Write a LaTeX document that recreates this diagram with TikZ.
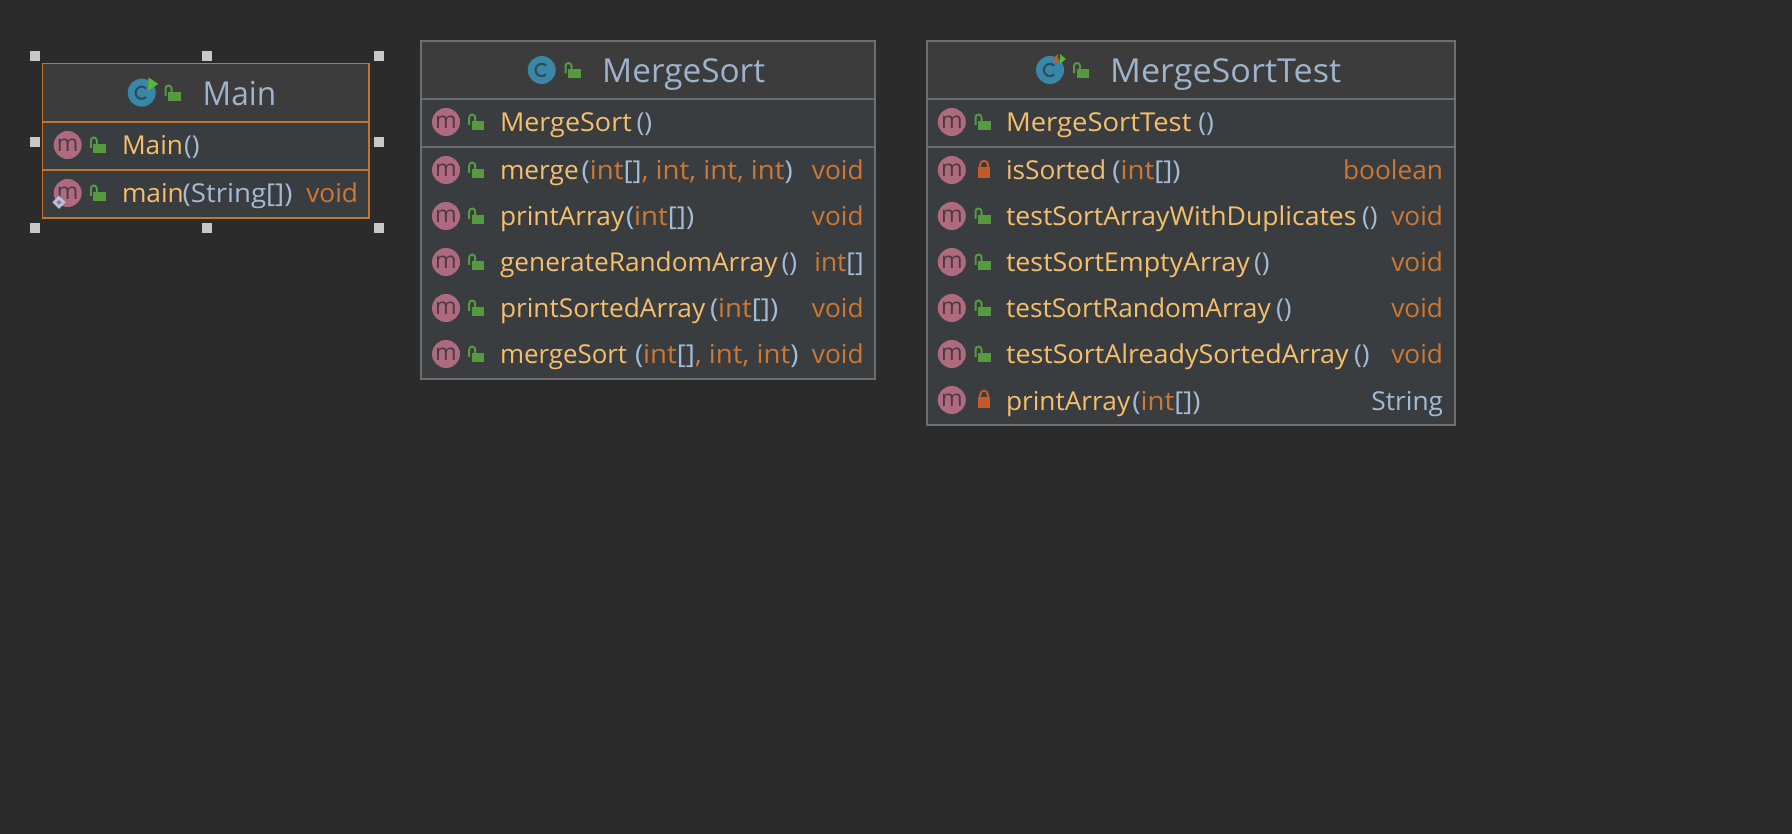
\documentclass[tikz,border=0pt]{standalone}
\usepackage{fontspec}
\setmainfont[FakeStretch=1.01]{Open Sans}
\definecolor{bg}{HTML}{2B2B2B}
\definecolor{headbg}{HTML}{3C3C3C}
\definecolor{rowbg}{HTML}{3A3D40}
\definecolor{frame}{HTML}{6E6E6E}
\definecolor{sel}{HTML}{C4752D}
\definecolor{mname}{HTML}{F5BF6B}
\definecolor{paren}{HTML}{A4BBD6}
\definecolor{tipe}{HTML}{CC7832}
\definecolor{title}{HTML}{9FB3CC}
\definecolor{mfill}{HTML}{AE6A7F}
\definecolor{mtext}{HTML}{4B3A42}
\definecolor{cfill}{HTML}{3A86A6}
\definecolor{ctext}{HTML}{2C4A5A}
\definecolor{pubc}{HTML}{559A3F}
\definecolor{pric}{HTML}{C35A28}
\definecolor{playg}{HTML}{5DB534}
\definecolor{handle}{HTML}{C8C8C8}
\tikzset{
  txt/.style={inner sep=0pt,outer sep=0pt,font=\fontsize{26}{30}\selectfont},
  namet/.style={txt,anchor=base west,text=mname},
  part/.style={txt,anchor=base west,text=paren},
  rett/.style={txt,anchor=base east,text=tipe},
  titlet/.style={inner sep=0pt,anchor=base west,text=title,font=\fontsize{33}{38}\selectfont},
  micon/.style={circle,fill=mfill,minimum size=28pt,inner sep=0pt,text=mtext,font=\fontsize{23}{23}\selectfont},
  grip/.style={fill=handle,minimum size=10pt,inner sep=0pt},
  sep/.style={line width=2pt},
}
\newcommand\Pa[1]{\textcolor{paren}{#1}}
\newcommand\Ty[1]{\textcolor{tipe}{#1}}
\newcommand\widen[2]{\scalebox{#1}[1]{#2}}
\newcommand\argz[1]{\scalebox{1.052}[1]{#1}}
\newcommand\pubk[2]{%
  \fill[pubc] (#1,#2-1) rectangle (#1+12.5,#2+8);
  \draw[pubc,line width=2pt] (#1-2.5,#2+3) -- (#1-2.5,#2-4.5) arc[start angle=180,end angle=360,radius=3] -- (#1+3.5,#2-1);
}
\newcommand\prik[2]{%
  \fill[pric] (#1,#2-3) rectangle (#1+12,#2+8);
  \draw[pric,line width=2pt] (#1+2.2,#2-3) -- (#1+2.2,#2-5.5) arc[start angle=180,end angle=360,radius=3.8] -- (#1+9.8,#2-3);
}
\newcommand\cicon[2]{%
  \fill[cfill] (#1,#2) circle[radius=14];
  \draw[ctext,line width=2pt] (#1+4.3,#2-4.3) arc[start angle=-45,end angle=-315,radius=6.1];
}
% \mrow{id}{y}{lock macro}{name}{x of parameters}{parameters}{return type}
\newcommand\mrow[7]{%
  \node[micon] (#1-icon) at (\ix,#2) {m};
  #3{\lx}{#2}
  \node[namet] (#1-name) at (\tx,#2+10) {#4};
  \node[part] (#1-par) at (#5,#2+10) {#6};
  \if\relax\detokenize{#7}\relax\else
    \node[rett] (#1-ret) at (\rx,#2+10) {#7};
  \fi
}
\begin{document}
\begin{tikzpicture}[x=1pt,y=-1pt]
\useasboundingbox (0,0) rectangle (1792,834);
\fill[bg] (0,0) rectangle (1792,834);

% ---------- Main
\fill[headbg] (42.5,63.5) rectangle (369,121.7);
\fill[rowbg] (42.5,121.7) rectangle (369,218);
\draw[sel,sep] (42.5,121.7) -- (369,121.7);
\draw[sel,sep] (42.5,170) -- (369,170);
\draw[sel,line width=1.3pt] (42.5,63.5) rectangle (369,218);
\cicon{141.7}{92.7}
\fill[playg] (148.3,77.3) -- (158.3,84) -- (148.3,90.7) -- cycle;
\pubk{168}{93}
\node[titlet] (main-title) at (202.5,106) {\widen{0.95}{Main}};
\def\ix{67.7}\def\lx{93.3}\def\tx{122}\def\rx{358}
\mrow{m1}{145}{\pubk}{Main}{184}{\Pa{()}}{}
\mrow{m2}{193}{\pubk}{main}{182.7}{\argz{\Pa{(String[])}}}{void}
\fill[paren!85!white] (59,195.7) -- (65.6,202.3) -- (59,208.9) -- (52.4,202.3) -- cycle;
\fill[mfill] (59,199.8) -- (61.5,202.3) -- (59,204.8) -- (56.5,202.3) -- cycle;
% selection handles
\node[grip] (h1) at (35,56) {};
\node[grip] (h2) at (207,56) {};
\node[grip] (h3) at (379,56) {};
\node[grip] (h4) at (35,142) {};
\node[grip] (h5) at (379,142) {};
\node[grip] (h6) at (35,228) {};
\node[grip] (h7) at (207,228) {};
\node[grip] (h8) at (379,228) {};

% ---------- MergeSort
\fill[headbg] (421,41) rectangle (875,99);
\fill[rowbg] (421,99) rectangle (875,379);
\draw[frame,sep] (421,99) -- (875,99);
\draw[frame,sep] (421,147) -- (875,147);
\draw[frame,line width=1.5pt] (421,41) rectangle (875,379);
\cicon{541.7}{70}
\pubk{568}{70.5}
\node[titlet] (ms-title) at (602,83) {MergeSort};
\def\ix{446}\def\lx{471.7}\def\tx{500}\def\rx{863.7}
\mrow{a0}{122}{\pubk}{\widen{1.027}{MergeSort}}{636.7}{\Pa{()}}{}
\mrow{a1}{170}{\pubk}{merge}{581.7}{\argz{\Pa{(}\Ty{int}\Pa{[]}\Ty{, int, int, int}\Pa{)}}}{void}
\mrow{a2}{216}{\pubk}{printArray}{626}{\argz{\Pa{(}\Ty{int}\Pa{[])}}}{void}
\mrow{a3}{262}{\pubk}{generateRandomArray}{781.7}{\Pa{()}}{\Ty{int}\Pa{[]}}
\mrow{a4}{308}{\pubk}{printSortedArray}{710}{\argz{\Pa{(}\Ty{int}\Pa{[])}}}{void}
\mrow{a5}{354}{\pubk}{\widen{0.985}{mergeSort}}{635}{\argz{\Pa{(}\Ty{int}\Pa{[]}\Ty{, int, int}\Pa{)}}}{void}

% ---------- MergeSortTest
\fill[headbg] (927,41) rectangle (1455,99);
\fill[rowbg] (927,99) rectangle (1455,425);
\draw[frame,sep] (927,99) -- (1455,99);
\draw[frame,sep] (927,147) -- (1455,147);
\draw[frame,line width=1.5pt] (927,41) rectangle (1455,425);
\cicon{1050}{70}
\fill[pric] (1058,54) -- (1052.3,59) -- (1058,64) -- cycle;
\fill[playg] (1060,54) -- (1065.8,59) -- (1060,64) -- cycle;
\pubk{1076.5}{70.5}
\node[titlet] (mt-title) at (1110,83) {\widen{1.025}{MergeSortTest}};
\def\ix{951.8}\def\lx{978}\def\tx{1006}\def\rx{1443}
\mrow{b0}{122}{\pubk}{\widen{1.045}{MergeSortTest}}{1198.4}{\Pa{()}}{}
\mrow{b1}{170}{\prik}{isSorted}{1112.4}{\argz{\Pa{(}\Ty{int}\Pa{[])}}}{boolean}
\mrow{b2}{216}{\pubk}{\widen{1.013}{testSortArrayWithDuplicates}}{1362}{\Pa{()}}{void}
\mrow{b3}{262}{\pubk}{\widen{1.02}{testSortEmptyArray}}{1254}{\Pa{()}}{void}
\mrow{b4}{308}{\pubk}{testSortRandomArray}{1276}{\Pa{()}}{void}
\mrow{b5}{354}{\pubk}{\widen{1.024}{testSortAlreadySortedArray}}{1354}{\Pa{()}}{void}
\mrow{b6}{400}{\prik}{printArray}{1132.4}{\argz{\Pa{(}\Ty{int}\Pa{[])}}}{\Pa{String}}
\end{tikzpicture}
\end{document}
